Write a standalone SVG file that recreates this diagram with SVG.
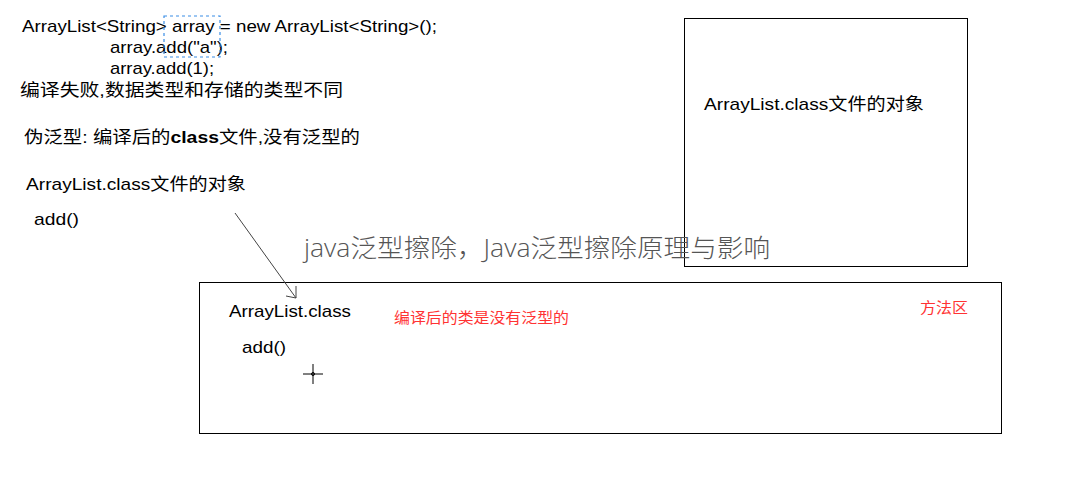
<svg xmlns="http://www.w3.org/2000/svg" width="1075" height="481" viewBox="0 0 1075 481">
<style>
.t{font-family:"Liberation Sans","Noto Sans CJK SC",sans-serif;font-size:17px;fill:#000}
.r{font-family:"Liberation Sans","Noto Sans CJK SC",sans-serif;font-size:15px;fill:#ff3333}
.box{fill:none;stroke:#000;stroke-width:1}
</style>
<rect width="1075" height="481" fill="#fff"/>
<g id="code">
<text class="t" x="22" y="32" textLength="415" lengthAdjust="spacingAndGlyphs">ArrayList&lt;String&gt; array  = new ArrayList&lt;String&gt;();</text>
<text class="t" x="110" y="53" textLength="118" lengthAdjust="spacingAndGlyphs">array.add("a");</text>
<text class="t" x="110" y="74" textLength="104" lengthAdjust="spacingAndGlyphs">array.add(1);</text>
<rect x="164" y="16" width="56" height="41" fill="none" stroke="#3a8ee6" stroke-width="1.2" stroke-dasharray="3,3"/>
<text class="t" x="20" y="96" textLength="323" lengthAdjust="spacingAndGlyphs">编译失败,数据类型和存储的类型不同</text>
<text class="t" x="24" y="143" textLength="336" lengthAdjust="spacingAndGlyphs">伪泛型: 编译后的<tspan font-weight="bold">class</tspan>文件,没有泛型的</text>
<text class="t" x="26" y="190" textLength="220" lengthAdjust="spacingAndGlyphs">ArrayList.class文件的对象</text>
<text class="t" x="34" y="225" textLength="45" lengthAdjust="spacingAndGlyphs">add()</text>
</g>
<g id="heap">
<rect class="box" x="684.5" y="18.5" width="283" height="248"/>
<text class="t" x="704" y="110" textLength="220" lengthAdjust="spacingAndGlyphs">ArrayList.class文件的对象</text>
</g>
<g id="method-area">
<rect class="box" x="199.5" y="282.5" width="802" height="151"/>
<text class="t" x="229" y="317" textLength="122" lengthAdjust="spacingAndGlyphs">ArrayList.class</text>
<text class="t" x="242" y="353" textLength="44" lengthAdjust="spacingAndGlyphs">add()</text>
<text class="r" x="394" y="323" textLength="175" lengthAdjust="spacingAndGlyphs">编译后的类是没有泛型的</text>
<text class="r" x="920" y="313" textLength="48" lengthAdjust="spacingAndGlyphs">方法区</text>
<path d="M313 364V384M303 374H323" stroke="#000" stroke-width="1"/>
<circle cx="313" cy="374" r="1.5" fill="none" stroke="#000"/>
</g>
<g id="connectors">
<path d="M235 213L296 298" stroke="#444" stroke-width="1"/>
<path d="M286 296L296 298L296 286" fill="none" stroke="#444" stroke-width="1"/>
</g>
<text x="304" y="257" font-family="'Open Sans','Noto Sans CJK SC',sans-serif" font-size="25" font-weight="300" fill="#555" textLength="466" lengthAdjust="spacingAndGlyphs">java泛型擦除，Java泛型擦除原理与影响</text>
</svg>
